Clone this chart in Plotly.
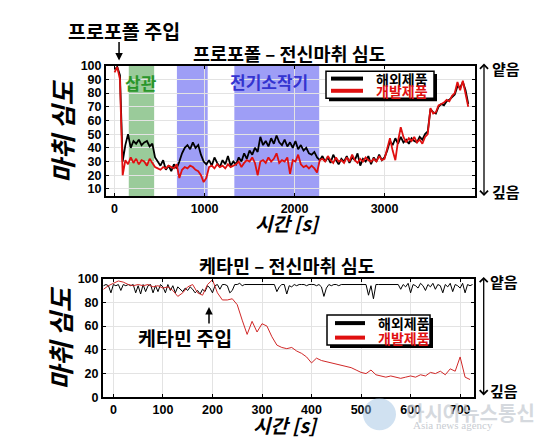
import numpy as np
import plotly.graph_objects as go

W, H = 542, 437

# ---------------- data: propofol (top) ----------------
prop_t_step = 30
prop_foreign = [97, 99, 93, 30, 42, 50, 40, 45, 43, 46, 42, 44, 45, 41, 43, 33, 30, 27, 31, 24,
                27, 23, 28, 25, 30, 36, 40, 42, 39, 44, 40, 42, 35, 30, 28, 31, 27, 33, 29, 26,
                31, 28, 34, 27, 30, 28, 33, 30, 36, 32, 38, 35, 40, 37, 48, 42, 45, 41, 47, 43,
                49, 44, 42, 46, 41, 44, 40, 45, 39, 42, 38, 40, 36, 35, 37, 33, 31, 34, 30, 33,
                29, 35, 31, 28, 32, 30, 34, 29, 33, 31, 36, 27, 32, 30, 34, 28, 33, 30, 35, 31,
                33, 38, 45, 42, 47, 43, 48, 44, 46, 43, 47, 45, 44, 48, 46, 50, 52, 68, 66, 65,
                70, 72, 71, 74, 75, 77, 79, 85, 84, 88, 82, 72]
prop_dev = [95, 99, 90, 20, 31, 28, 33, 29, 32, 28, 31, 30, 27, 32, 29, 26, 25, 24, 26, 25,
            27, 26, 25, 28, 18, 24, 26, 25, 27, 26, 24, 23, 20, 15, 18, 26, 27, 25, 28, 26,
            27, 25, 28, 26, 27, 28, 30, 26, 29, 31, 30, 33, 29, 20, 30, 31, 29, 33, 30, 32,
            36, 29, 31, 30, 33, 21, 31, 30, 35, 28, 26, 27, 25, 27, 25, 22, 31, 32, 30, 34,
            31, 29, 33, 30, 31, 29, 33, 30, 35, 31, 29, 32, 30, 33, 31, 30, 32, 30, 34, 31,
            32, 40, 47, 38, 31, 45, 55, 48, 44, 47, 45, 48, 44, 46, 43, 48, 50, 69, 65, 66,
            71, 72, 73, 75, 74, 78, 80, 88, 82, 89, 80, 70]
prop_t = np.arange(len(prop_foreign)) * prop_t_step

# shaded procedure periods (s)
intub_period = [158, 440]
cautery_periods = [[693, 1035], [1331, 2274]]

# ---------------- data: ketamine (bottom) ----------------
ket_black_t0, ket_black_step = -20, 5
ket_foreign = [94, 95, 94, 88, 95, 94, 95, 90, 95, 94, 95, 94, 95, 88, 94, 87, 95, 89, 94, 95,
               88, 94, 89, 95, 93, 88, 95, 90, 94, 88, 93, 91, 89, 92, 90, 93, 91, 88, 90, 87,
               91, 89, 94, 92, 88, 94, 95, 91, 95, 95, 94, 88, 90, 95, 95, 96, 94, 95, 95, 95,
               95, 95, 95, 95, 95, 95, 95, 95, 95, 95, 89, 93, 95, 95, 87, 94, 93, 95, 94, 95,
               95, 95, 94, 95, 95, 95, 94, 95, 93, 85, 92, 95, 94, 95, 95, 94, 95, 95, 95, 95,
               95, 95, 95, 95, 95, 95, 95, 86, 94, 83, 95, 95, 95, 95, 95, 95, 95, 95, 95, 95,
               91, 95, 93, 96, 88, 95, 94, 92, 96, 94, 90, 95, 93, 96, 91, 95, 94, 88, 95, 93,
               96, 89, 95, 94, 92, 96, 88, 95, 94, 95]
ket_black_t = ket_black_t0 + np.arange(len(ket_foreign)) * ket_black_step

ket_red_t0, ket_red_step = -20, 10
ket_dev = [91, 94, 96, 98, 97, 95, 94, 95, 94, 95, 93, 94, 92, 93, 90, 85, 88, 93, 95, 88,
           86, 95, 99, 88, 82, 82, 83, 78, 65, 53, 64, 55, 62, 60, 51, 44, 42, 41, 42, 39,
           37, 34, 29, 33, 31, 30, 29, 28, 27, 26, 25, 23, 21, 20, 23, 19, 18, 17, 18, 17,
           16, 17, 18, 17, 19, 18, 21, 20, 22, 19, 24, 22, 34, 17, 15]
ket_red_t = ket_red_t0 + np.arange(len(ket_dev)) * ket_red_step

series_names = ["해외제품", "개발제품"]
series_colors = ["#000000", "#e01010"]
prop_inject_t = 50
ket_inject_t = 193

# ---------------- helpers ----------------
def px(x):
    return x / W

def py(y):
    return 1 - y / H

FONT = "Liberation Sans, Arial, Noto Sans CJK KR, sans-serif"
KFONT = "Noto Sans CJK KR, Liberation Sans, sans-serif"

fig = go.Figure()

fig.add_trace(go.Scatter(x=prop_t, y=prop_foreign, mode="lines", name=series_names[0],
                         line=dict(color=series_colors[0], width=1.8), xaxis="x", yaxis="y",
                         showlegend=False))
fig.add_trace(go.Scatter(x=prop_t, y=prop_dev, mode="lines", name=series_names[1],
                         line=dict(color=series_colors[1], width=1.8), xaxis="x", yaxis="y",
                         showlegend=False))
fig.add_trace(go.Scatter(x=ket_black_t, y=ket_foreign, mode="lines", name=series_names[0],
                         line=dict(color=series_colors[0], width=1), xaxis="x2", yaxis="y2",
                         showlegend=False))
fig.add_trace(go.Scatter(x=ket_red_t, y=ket_dev, mode="lines", name=series_names[1],
                         line=dict(color="#d02828", width=1), xaxis="x2", yaxis="y2",
                         showlegend=False))

axis_common = dict(showline=True, linecolor="black", linewidth=2, mirror="ticks",
                   ticks="inside", ticklen=3, tickcolor="black", showgrid=True,
                   gridcolor="#e3e3e3", gridwidth=1, zeroline=False,
                   tickfont=dict(family=FONT, size=12.5, color="black", weight="bold"))

fig.update_layout(
    width=W, height=H, margin=dict(l=0, r=0, t=0, b=0),
    paper_bgcolor="white", plot_bgcolor="white", showlegend=False,
    xaxis=dict(domain=[px(98), px(467)], anchor="y", range=[-95, 4005],
               tickvals=[0, 1000, 2000, 3000], **axis_common),
    yaxis=dict(domain=[py(187.5), py(52.3)], anchor="x", range=[4.5, 100],
               tickvals=list(range(10, 101, 10)), **axis_common),
    xaxis2=dict(domain=[px(95), px(466)], anchor="y2", range=[-21, 728],
                tickvals=list(range(0, 701, 100)), **axis_common),
    yaxis2=dict(domain=[py(395), py(272.3)], anchor="x2", range=[0, 100],
                tickvals=list(range(0, 101, 20)), **axis_common),
)

shapes = []
shapes.append(dict(type="rect", xref="x", yref="y domain", x0=intub_period[0], x1=intub_period[1],
                   y0=0, y1=1, fillcolor="#9acb9a", line=dict(width=0), layer="below"))
for a, b in cautery_periods:
    shapes.append(dict(type="rect", xref="x", yref="y domain", x0=a, x1=b, y0=0, y1=1,
                       fillcolor="#9e9ef6", line=dict(width=0), layer="below"))

annotations = []

def txt(x, y, s, size, color="black", bold=True, italic=False, angle=0, xanchor="center",
        family=KFONT, xref="paper", yref="paper"):
    annotations.append(dict(x=x, y=y, xref=xref, yref=yref, text=s, showarrow=False,
                            xanchor=xanchor, yanchor="middle", textangle=angle,
                            font=dict(family=family, size=size, color=color,
                                      weight="bold" if bold else "normal",
                                      style="italic" if italic else "normal")))

# faint watermark (drawn first so chart text stays on top)
shapes.append(dict(type="circle", xref="paper", yref="paper", x0=px(355), x1=px(388),
                   y0=py(429), y1=py(396), fillcolor="rgba(150,188,225,0.45)",
                   line=dict(width=0), layer="above"))
txt(px(462), py(411), "아시아뉴스통신", 20, color="rgba(200,205,212,0.75)")
txt(px(445), py(424), "Asia news agency", 11, color="rgba(185,190,198,0.8)", bold=False,
    family="Liberation Serif, serif")

# legends (box + shadow + sample lines + text)
def legend(x0, x1, y0, y1, lx0, lx1, ly, tx):
    shapes.append(dict(type="rect", xref="paper", yref="paper", x0=px(x0 + 3), x1=px(x1 + 3),
                       y0=py(y1 + 3), y1=py(y0 + 3), fillcolor="black", line=dict(width=0),
                       layer="above"))
    shapes.append(dict(type="rect", xref="paper", yref="paper", x0=px(x0), x1=px(x1),
                       y0=py(y1), y1=py(y0), fillcolor="white",
                       line=dict(color="black", width=1.5), layer="above"))
    for i in range(2):
        shapes.append(dict(type="line", xref="paper", yref="paper", x0=px(lx0), x1=px(lx1),
                           y0=py(ly[i]), y1=py(ly[i]),
                           line=dict(color=series_colors[i], width=4), layer="above"))
        txt(px(tx), py(ly[i]), series_names[i], 14, color=series_colors[i], xanchor="left")

legend(318, 426, 58, 86, 323, 355, [65.7, 78.3], 366)
legend(319, 422, 310, 341, 327, 357, [318.3, 333.3], 368)

# titles
txt(px(282), py(39), "프로포폴 – 전신마취 심도", 18.5)
txt(px(279), py(258), "케타민 – 전신마취 심도", 18.5)
txt(px(116), py(16), "프로포폴 주입", 19.5)
txt(px(53), py(120), "마취 심도", 26, italic=True, angle=-90)
txt(px(51), py(333.7), "마취 심도", 26, italic=True, angle=-90)
txt(px(280), py(214), "시간 [s]", 19, italic=True)
txt(px(278), py(423), "시간 [s]", 19, italic=True)

# band labels
txt(299, 87.5, "삽관", 17, color="#2a962a", xref="x", yref="y")
txt(1720, 88.7, "전기소작기", 17, color="#3434d0", xref="x", yref="y")

# ketamine injection label
txt(145, 50.5, "케타민 주입", 19.5, xref="x2", yref="y2")

# injection arrows
annotations.append(dict(x=prop_inject_t, y=py(47), xref="x", yref="paper", ax=0, ay=-20,
                        text="", showarrow=True, arrowhead=2, arrowsize=1, arrowwidth=1.5,
                        arrowcolor="black"))
annotations.append(dict(x=ket_inject_t, y=76, xref="x2", yref="y2", ax=0, ay=18,
                        text="", showarrow=True, arrowhead=2, arrowsize=1, arrowwidth=1.5,
                        arrowcolor="black"))

# right depth scale arrows
for (xa, ytop, ybot, xt) in [(476, 53, 187, 498), (475.7, 273, 393, 496)]:
    annotations.append(dict(x=px(xa), y=py(ybot), xref="paper", yref="paper",
                            ax=0, ay=-(ybot - ytop),
                            text="", showarrow=True, arrowhead=4, startarrowhead=4,
                            arrowside="end+start", arrowsize=1.2, startarrowsize=1.2,
                            arrowwidth=1.3, arrowcolor="black"))
    txt(px(xt), py(ytop + 2), "얕음", 15)
    txt(px(xt), py(ybot - 5), "깊음", 15)

fig.update_layout(shapes=shapes, annotations=annotations)
fig.write_html("out.html")
